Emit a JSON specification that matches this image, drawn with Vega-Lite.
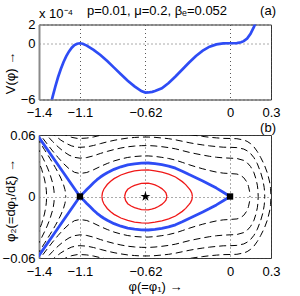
{
"$schema": "https://vega.github.io/schema/vega-lite/v6.json",
"padding": {"left": 1, "top": 3.5, "right": 0, "bottom": 0},
"bounds": "flush",
"spacing": 35.5,
"config": {
  "view": {"stroke": "#333", "strokeWidth": 1},
  "font": "Liberation Sans",
  "axis": {"grid": true, "gridColor": "#444", "gridDash": [1, 3], "gridWidth": 0.9, "domain": false, "ticks": false,
    "labelFont": "Liberation Sans", "labelFontSize": 13, "labelColor": "#000", "labelFlush": false, "labelOverlap": false,
    "titleFont": "Liberation Sans", "titleFontSize": 13, "titleFontWeight": "normal", "titleColor": "#000"}
},
"datasets": {
  "V": [
    {"x":-1.34,"y":-8.1},{"x":-1.32,"y":-6.9},{"x":-1.30,"y":-5.7},{"x":-1.28,"y":-4.6},{"x":-1.26,"y":-3.6},{"x":-1.24,"y":-2.75},{"x":-1.22,"y":-2.0},{"x":-1.20,"y":-1.38},{"x":-1.18,"y":-0.87},{"x":-1.16,"y":-0.48},{"x":-1.14,"y":-0.2},{"x":-1.12,"y":-0.05},{"x":-1.10,"y":0},{"x":-1.08,"y":-0.05},{"x":-1.05,"y":-0.25},{"x":-1.00,"y":-0.7},{"x":-0.95,"y":-1.25},{"x":-0.90,"y":-1.9},{"x":-0.85,"y":-2.6},{"x":-0.80,"y":-3.3},{"x":-0.75,"y":-4.0},{"x":-0.70,"y":-4.6},{"x":-0.65,"y":-5.1},{"x":-0.62,"y":-5.26},{"x":-0.60,"y":-5.25},{"x":-0.57,"y":-5.18},{"x":-0.55,"y":-5.1},{"x":-0.50,"y":-4.8},{"x":-0.45,"y":-4.25},{"x":-0.40,"y":-3.55},{"x":-0.35,"y":-2.8},{"x":-0.30,"y":-2.05},{"x":-0.25,"y":-1.35},{"x":-0.20,"y":-0.78},{"x":-0.15,"y":-0.36},{"x":-0.10,"y":-0.12},{"x":-0.05,"y":-0.02},{"x":0,"y":0},{"x":0.05,"y":0.02},{"x":0.08,"y":0.1},{"x":0.10,"y":0.22},{"x":0.125,"y":0.5},{"x":0.15,"y":1.0},{"x":0.175,"y":1.75},{"x":0.19,"y":2.3},{"x":0.20,"y":2.8}
  ],
  "b": [
    {"g":"bu","x":-1.42,"y":0.0614},{"g":"bu","x":-1.26,"y":0.0307},{"g":"bu","x":-1.10,"y":0},{"g":"bu","x":-1.075,"y":0.0033},{"g":"bu","x":-1.05,"y":0.0068},{"g":"bu","x":-1.025,"y":0.0101},{"g":"bu","x":-1.00,"y":0.0134},{"g":"bu","x":-0.975,"y":0.0164},{"g":"bu","x":-0.95,"y":0.0190},{"g":"bu","x":-0.925,"y":0.0212},{"g":"bu","x":-0.90,"y":0.0232},{"g":"bu","x":-0.85,"y":0.0265},{"g":"bu","x":-0.80,"y":0.0290},{"g":"bu","x":-0.75,"y":0.0308},{"g":"bu","x":-0.70,"y":0.0319},{"g":"bu","x":-0.65,"y":0.0326},{"g":"bu","x":-0.60,"y":0.0327},{"g":"bu","x":-0.55,"y":0.0321},{"g":"bu","x":-0.50,"y":0.0310},{"g":"bu","x":-0.45,"y":0.0297},{"g":"bu","x":-0.40,"y":0.0276},{"g":"bu","x":-0.35,"y":0.0247},{"g":"bu","x":-0.30,"y":0.0214},{"g":"bu","x":-0.25,"y":0.0183},{"g":"bu","x":-0.20,"y":0.0152},{"g":"bu","x":-0.15,"y":0.0118},{"g":"bu","x":-0.10,"y":0.0082},{"g":"bu","x":-0.05,"y":0.0042},{"g":"bu","x":0,"y":0},
    {"g":"bl","x":-1.42,"y":-0.0614},{"g":"bl","x":-1.26,"y":-0.0307},{"g":"bl","x":-1.10,"y":0},{"g":"bl","x":-1.075,"y":-0.0033},{"g":"bl","x":-1.05,"y":-0.0068},{"g":"bl","x":-1.025,"y":-0.0101},{"g":"bl","x":-1.00,"y":-0.0134},{"g":"bl","x":-0.975,"y":-0.0164},{"g":"bl","x":-0.95,"y":-0.0190},{"g":"bl","x":-0.925,"y":-0.0212},{"g":"bl","x":-0.90,"y":-0.0232},{"g":"bl","x":-0.85,"y":-0.0265},{"g":"bl","x":-0.80,"y":-0.0290},{"g":"bl","x":-0.75,"y":-0.0308},{"g":"bl","x":-0.70,"y":-0.0319},{"g":"bl","x":-0.65,"y":-0.0326},{"g":"bl","x":-0.60,"y":-0.0327},{"g":"bl","x":-0.55,"y":-0.0321},{"g":"bl","x":-0.50,"y":-0.0310},{"g":"bl","x":-0.45,"y":-0.0297},{"g":"bl","x":-0.40,"y":-0.0276},{"g":"bl","x":-0.35,"y":-0.0247},{"g":"bl","x":-0.30,"y":-0.0214},{"g":"bl","x":-0.25,"y":-0.0183},{"g":"bl","x":-0.20,"y":-0.0152},{"g":"bl","x":-0.15,"y":-0.0118},{"g":"bl","x":-0.10,"y":-0.0082},{"g":"bl","x":-0.05,"y":-0.0042},{"g":"bl","x":0,"y":0}
  ],
  "r": [
    {"g":"r4u","x":-0.939,"y":0},{"g":"r4u","x":-0.935,"y":0.0038},{"g":"r4u","x":-0.925,"y":0.0071},{"g":"r4u","x":-0.90,"y":0.0117},{"g":"r4u","x":-0.875,"y":0.0148},{"g":"r4u","x":-0.85,"y":0.0174},{"g":"r4u","x":-0.80,"y":0.0210},{"g":"r4u","x":-0.75,"y":0.0234},{"g":"r4u","x":-0.70,"y":0.0249},{"g":"r4u","x":-0.65,"y":0.0257},{"g":"r4u","x":-0.60,"y":0.0259},{"g":"r4u","x":-0.55,"y":0.0251},{"g":"r4u","x":-0.50,"y":0.0237},{"g":"r4u","x":-0.45,"y":0.0219},{"g":"r4u","x":-0.40,"y":0.0190},{"g":"r4u","x":-0.35,"y":0.0145},{"g":"r4u","x":-0.325,"y":0.0116},{"g":"r4u","x":-0.30,"y":0.0077},{"g":"r4u","x":-0.29,"y":0.0059},{"g":"r4u","x":-0.28,"y":0.0032},{"g":"r4u","x":-0.276,"y":0},
    {"g":"r4l","x":-0.939,"y":0},{"g":"r4l","x":-0.935,"y":-0.0038},{"g":"r4l","x":-0.925,"y":-0.0071},{"g":"r4l","x":-0.90,"y":-0.0117},{"g":"r4l","x":-0.875,"y":-0.0148},{"g":"r4l","x":-0.85,"y":-0.0174},{"g":"r4l","x":-0.80,"y":-0.0210},{"g":"r4l","x":-0.75,"y":-0.0234},{"g":"r4l","x":-0.70,"y":-0.0249},{"g":"r4l","x":-0.65,"y":-0.0257},{"g":"r4l","x":-0.60,"y":-0.0259},{"g":"r4l","x":-0.55,"y":-0.0251},{"g":"r4l","x":-0.50,"y":-0.0237},{"g":"r4l","x":-0.45,"y":-0.0219},{"g":"r4l","x":-0.40,"y":-0.0190},{"g":"r4l","x":-0.35,"y":-0.0145},{"g":"r4l","x":-0.325,"y":-0.0116},{"g":"r4l","x":-0.30,"y":-0.0077},{"g":"r4l","x":-0.29,"y":-0.0059},{"g":"r4l","x":-0.28,"y":-0.0032},{"g":"r4l","x":-0.276,"y":0},
    {"g":"r9u","x":-0.773,"y":0},{"g":"r9u","x":-0.765,"y":0.0041},{"g":"r9u","x":-0.75,"y":0.0070},{"g":"r9u","x":-0.725,"y":0.0093},{"g":"r9u","x":-0.70,"y":0.0109},{"g":"r9u","x":-0.675,"y":0.0119},{"g":"r9u","x":-0.65,"y":0.0128},{"g":"r9u","x":-0.60,"y":0.0130},{"g":"r9u","x":-0.575,"y":0.0123},{"g":"r9u","x":-0.55,"y":0.0114},{"g":"r9u","x":-0.525,"y":0.0098},{"g":"r9u","x":-0.50,"y":0.0077},{"g":"r9u","x":-0.48,"y":0.0053},{"g":"r9u","x":-0.47,"y":0.0035},{"g":"r9u","x":-0.4625,"y":0},
    {"g":"r9l","x":-0.773,"y":0},{"g":"r9l","x":-0.765,"y":-0.0041},{"g":"r9l","x":-0.75,"y":-0.0070},{"g":"r9l","x":-0.725,"y":-0.0093},{"g":"r9l","x":-0.70,"y":-0.0109},{"g":"r9l","x":-0.675,"y":-0.0119},{"g":"r9l","x":-0.65,"y":-0.0128},{"g":"r9l","x":-0.60,"y":-0.0130},{"g":"r9l","x":-0.575,"y":-0.0123},{"g":"r9l","x":-0.55,"y":-0.0114},{"g":"r9l","x":-0.525,"y":-0.0098},{"g":"r9l","x":-0.50,"y":-0.0077},{"g":"r9l","x":-0.48,"y":-0.0053},{"g":"r9l","x":-0.47,"y":-0.0035},{"g":"r9l","x":-0.4625,"y":0}
  ],
  "d": [
    {"g":"p5u","x":-1.42,"y":0.0654},{"g":"p5u","x":-1.38,"y":0.0582},{"g":"p5u","x":-1.34,"y":0.0512},{"g":"p5u","x":-1.30,"y":0.0444},{"g":"p5u","x":-1.26,"y":0.0380},{"g":"p5u","x":-1.22,"y":0.0321},{"g":"p5u","x":-1.18,"y":0.0271},{"g":"p5u","x":-1.14,"y":0.0236},{"g":"p5u","x":-1.10,"y":0.0224},{"g":"p5u","x":-1.05,"y":0.0234},{"g":"p5u","x":-1.00,"y":0.0261},{"g":"p5u","x":-0.95,"y":0.0293},{"g":"p5u","x":-0.90,"y":0.0322},{"g":"p5u","x":-0.85,"y":0.0347},{"g":"p5u","x":-0.80,"y":0.0366},{"g":"p5u","x":-0.75,"y":0.0381},{"g":"p5u","x":-0.70,"y":0.0390},{"g":"p5u","x":-0.65,"y":0.0395},{"g":"p5u","x":-0.60,"y":0.0396},{"g":"p5u","x":-0.55,"y":0.0391},{"g":"p5u","x":-0.50,"y":0.0382},{"g":"p5u","x":-0.45,"y":0.0371},{"g":"p5u","x":-0.40,"y":0.0355},{"g":"p5u","x":-0.35,"y":0.0333},{"g":"p5u","x":-0.30,"y":0.0310},{"g":"p5u","x":-0.25,"y":0.0289},{"g":"p5u","x":-0.20,"y":0.0270},{"g":"p5u","x":-0.15,"y":0.0253},{"g":"p5u","x":-0.10,"y":0.0238},{"g":"p5u","x":-0.05,"y":0.0228},{"g":"p5u","x":0,"y":0.0224},{"g":"p5u","x":0.05,"y":0.0219},{"g":"p5u","x":0.075,"y":0.0208},{"g":"p5u","x":0.10,"y":0.0184},{"g":"p5u","x":0.125,"y":0.0138},{"g":"p5u","x":0.135,"y":0.0099},{"g":"p5u","x":0.143,"y":0.0049},{"g":"p5u","x":0.1457,"y":0},
    {"g":"p5l","x":-1.42,"y":-0.0654},{"g":"p5l","x":-1.38,"y":-0.0582},{"g":"p5l","x":-1.34,"y":-0.0512},{"g":"p5l","x":-1.30,"y":-0.0444},{"g":"p5l","x":-1.26,"y":-0.0380},{"g":"p5l","x":-1.22,"y":-0.0321},{"g":"p5l","x":-1.18,"y":-0.0271},{"g":"p5l","x":-1.14,"y":-0.0236},{"g":"p5l","x":-1.10,"y":-0.0224},{"g":"p5l","x":-1.05,"y":-0.0234},{"g":"p5l","x":-1.00,"y":-0.0261},{"g":"p5l","x":-0.95,"y":-0.0293},{"g":"p5l","x":-0.90,"y":-0.0322},{"g":"p5l","x":-0.85,"y":-0.0347},{"g":"p5l","x":-0.80,"y":-0.0366},{"g":"p5l","x":-0.75,"y":-0.0381},{"g":"p5l","x":-0.70,"y":-0.0390},{"g":"p5l","x":-0.65,"y":-0.0395},{"g":"p5l","x":-0.60,"y":-0.0396},{"g":"p5l","x":-0.55,"y":-0.0391},{"g":"p5l","x":-0.50,"y":-0.0382},{"g":"p5l","x":-0.45,"y":-0.0371},{"g":"p5l","x":-0.40,"y":-0.0355},{"g":"p5l","x":-0.35,"y":-0.0333},{"g":"p5l","x":-0.30,"y":-0.0310},{"g":"p5l","x":-0.25,"y":-0.0289},{"g":"p5l","x":-0.20,"y":-0.0270},{"g":"p5l","x":-0.15,"y":-0.0253},{"g":"p5l","x":-0.10,"y":-0.0238},{"g":"p5l","x":-0.05,"y":-0.0228},{"g":"p5l","x":0,"y":-0.0224},{"g":"p5l","x":0.05,"y":-0.0219},{"g":"p5l","x":0.075,"y":-0.0208},{"g":"p5l","x":0.10,"y":-0.0184},{"g":"p5l","x":0.125,"y":-0.0138},{"g":"p5l","x":0.135,"y":-0.0099},{"g":"p5l","x":0.143,"y":-0.0049},{"g":"p5l","x":0.1457,"y":0},
    {"g":"p14u","x":-1.38,"y":0.0655},{"g":"p14u","x":-1.34,"y":0.0594},{"g":"p14u","x":-1.30,"y":0.0536},{"g":"p14u","x":-1.26,"y":0.0484},{"g":"p14u","x":-1.22,"y":0.0439},{"g":"p14u","x":-1.18,"y":0.0404},{"g":"p14u","x":-1.14,"y":0.0382},{"g":"p14u","x":-1.10,"y":0.0374},{"g":"p14u","x":-1.05,"y":0.0380},{"g":"p14u","x":-1.00,"y":0.0397},{"g":"p14u","x":-0.95,"y":0.0420},{"g":"p14u","x":-0.90,"y":0.0440},{"g":"p14u","x":-0.85,"y":0.0458},{"g":"p14u","x":-0.80,"y":0.0473},{"g":"p14u","x":-0.75,"y":0.0485},{"g":"p14u","x":-0.70,"y":0.0492},{"g":"p14u","x":-0.65,"y":0.0496},{"g":"p14u","x":-0.60,"y":0.0497},{"g":"p14u","x":-0.55,"y":0.0493},{"g":"p14u","x":-0.50,"y":0.0486},{"g":"p14u","x":-0.45,"y":0.0477},{"g":"p14u","x":-0.40,"y":0.0465},{"g":"p14u","x":-0.35,"y":0.0448},{"g":"p14u","x":-0.30,"y":0.0431},{"g":"p14u","x":-0.25,"y":0.0417},{"g":"p14u","x":-0.20,"y":0.0404},{"g":"p14u","x":-0.15,"y":0.0392},{"g":"p14u","x":-0.10,"y":0.0383},{"g":"p14u","x":-0.05,"y":0.0377},{"g":"p14u","x":0,"y":0.0374},{"g":"p14u","x":0.05,"y":0.0371},{"g":"p14u","x":0.10,"y":0.0352},{"g":"p14u","x":0.125,"y":0.0330},{"g":"p14u","x":0.15,"y":0.0293},{"g":"p14u","x":0.175,"y":0.0232},{"g":"p14u","x":0.19,"y":0.0170},{"g":"p14u","x":0.20,"y":0.0110},{"g":"p14u","x":0.204,"y":0.0066},{"g":"p14u","x":0.2063,"y":0},
    {"g":"p14l","x":-1.38,"y":-0.0655},{"g":"p14l","x":-1.34,"y":-0.0594},{"g":"p14l","x":-1.30,"y":-0.0536},{"g":"p14l","x":-1.26,"y":-0.0484},{"g":"p14l","x":-1.22,"y":-0.0439},{"g":"p14l","x":-1.18,"y":-0.0404},{"g":"p14l","x":-1.14,"y":-0.0382},{"g":"p14l","x":-1.10,"y":-0.0374},{"g":"p14l","x":-1.05,"y":-0.0380},{"g":"p14l","x":-1.00,"y":-0.0397},{"g":"p14l","x":-0.95,"y":-0.0420},{"g":"p14l","x":-0.90,"y":-0.0440},{"g":"p14l","x":-0.85,"y":-0.0458},{"g":"p14l","x":-0.80,"y":-0.0473},{"g":"p14l","x":-0.75,"y":-0.0485},{"g":"p14l","x":-0.70,"y":-0.0492},{"g":"p14l","x":-0.65,"y":-0.0496},{"g":"p14l","x":-0.60,"y":-0.0497},{"g":"p14l","x":-0.55,"y":-0.0493},{"g":"p14l","x":-0.50,"y":-0.0486},{"g":"p14l","x":-0.45,"y":-0.0477},{"g":"p14l","x":-0.40,"y":-0.0465},{"g":"p14l","x":-0.35,"y":-0.0448},{"g":"p14l","x":-0.30,"y":-0.0431},{"g":"p14l","x":-0.25,"y":-0.0417},{"g":"p14l","x":-0.20,"y":-0.0404},{"g":"p14l","x":-0.15,"y":-0.0392},{"g":"p14l","x":-0.10,"y":-0.0383},{"g":"p14l","x":-0.05,"y":-0.0377},{"g":"p14l","x":0,"y":-0.0374},{"g":"p14l","x":0.05,"y":-0.0371},{"g":"p14l","x":0.10,"y":-0.0352},{"g":"p14l","x":0.125,"y":-0.0330},{"g":"p14l","x":0.15,"y":-0.0293},{"g":"p14l","x":0.175,"y":-0.0232},{"g":"p14l","x":0.19,"y":-0.0170},{"g":"p14l","x":0.20,"y":-0.0110},{"g":"p14l","x":0.204,"y":-0.0066},{"g":"p14l","x":0.2063,"y":0},
    {"g":"p23u","x":-1.32,"y":0.0639},{"g":"p23u","x":-1.28,"y":0.0591},{"g":"p23u","x":-1.24,"y":0.0550},{"g":"p23u","x":-1.20,"y":0.0517},{"g":"p23u","x":-1.16,"y":0.0493},{"g":"p23u","x":-1.12,"y":0.0481},{"g":"p23u","x":-1.10,"y":0.0480},{"g":"p23u","x":-1.05,"y":0.0484},{"g":"p23u","x":-1.00,"y":0.0498},{"g":"p23u","x":-0.95,"y":0.0516},{"g":"p23u","x":-0.90,"y":0.0533},{"g":"p23u","x":-0.85,"y":0.0548},{"g":"p23u","x":-0.80,"y":0.0560},{"g":"p23u","x":-0.75,"y":0.0570},{"g":"p23u","x":-0.70,"y":0.0576},{"g":"p23u","x":-0.65,"y":0.0580},{"g":"p23u","x":-0.60,"y":0.0580},{"g":"p23u","x":-0.55,"y":0.0577},{"g":"p23u","x":-0.50,"y":0.0571},{"g":"p23u","x":-0.45,"y":0.0564},{"g":"p23u","x":-0.40,"y":0.0553},{"g":"p23u","x":-0.35,"y":0.0539},{"g":"p23u","x":-0.30,"y":0.0525},{"g":"p23u","x":-0.25,"y":0.0513},{"g":"p23u","x":-0.20,"y":0.0503},{"g":"p23u","x":-0.15,"y":0.0494},{"g":"p23u","x":-0.10,"y":0.0487},{"g":"p23u","x":-0.05,"y":0.0481},{"g":"p23u","x":0,"y":0.0480},{"g":"p23u","x":0.05,"y":0.0477},{"g":"p23u","x":0.10,"y":0.0463},{"g":"p23u","x":0.125,"y":0.0446},{"g":"p23u","x":0.15,"y":0.0420},{"g":"p23u","x":0.175,"y":0.0379},{"g":"p23u","x":0.20,"y":0.0319},{"g":"p23u","x":0.225,"y":0.0232},{"g":"p23u","x":0.24,"y":0.0162},{"g":"p23u","x":0.25,"y":0.0089},{"g":"p23u","x":0.253,"y":0.0047},{"g":"p23u","x":0.2542,"y":0},
    {"g":"p23l","x":-1.32,"y":-0.0639},{"g":"p23l","x":-1.28,"y":-0.0591},{"g":"p23l","x":-1.24,"y":-0.0550},{"g":"p23l","x":-1.20,"y":-0.0517},{"g":"p23l","x":-1.16,"y":-0.0493},{"g":"p23l","x":-1.12,"y":-0.0481},{"g":"p23l","x":-1.10,"y":-0.0480},{"g":"p23l","x":-1.05,"y":-0.0484},{"g":"p23l","x":-1.00,"y":-0.0498},{"g":"p23l","x":-0.95,"y":-0.0516},{"g":"p23l","x":-0.90,"y":-0.0533},{"g":"p23l","x":-0.85,"y":-0.0548},{"g":"p23l","x":-0.80,"y":-0.0560},{"g":"p23l","x":-0.75,"y":-0.0570},{"g":"p23l","x":-0.70,"y":-0.0576},{"g":"p23l","x":-0.65,"y":-0.0580},{"g":"p23l","x":-0.60,"y":-0.0580},{"g":"p23l","x":-0.55,"y":-0.0577},{"g":"p23l","x":-0.50,"y":-0.0571},{"g":"p23l","x":-0.45,"y":-0.0564},{"g":"p23l","x":-0.40,"y":-0.0553},{"g":"p23l","x":-0.35,"y":-0.0539},{"g":"p23l","x":-0.30,"y":-0.0525},{"g":"p23l","x":-0.25,"y":-0.0513},{"g":"p23l","x":-0.20,"y":-0.0503},{"g":"p23l","x":-0.15,"y":-0.0494},{"g":"p23l","x":-0.10,"y":-0.0487},{"g":"p23l","x":-0.05,"y":-0.0481},{"g":"p23l","x":0,"y":-0.0480},{"g":"p23l","x":0.05,"y":-0.0477},{"g":"p23l","x":0.10,"y":-0.0463},{"g":"p23l","x":0.125,"y":-0.0446},{"g":"p23l","x":0.15,"y":-0.0420},{"g":"p23l","x":0.175,"y":-0.0379},{"g":"p23l","x":0.20,"y":-0.0319},{"g":"p23l","x":0.225,"y":-0.0232},{"g":"p23l","x":0.24,"y":-0.0162},{"g":"p23l","x":0.25,"y":-0.0089},{"g":"p23l","x":0.253,"y":-0.0047},{"g":"p23l","x":0.2542,"y":0},
    {"g":"p32u","x":-1.24,"y":0.0626},{"g":"p32u","x":-1.20,"y":0.0597},{"g":"p32u","x":-1.16,"y":0.0577},{"g":"p32u","x":-1.12,"y":0.0567},{"g":"p32u","x":-1.10,"y":0.0566},{"g":"p32u","x":-1.05,"y":0.0570},{"g":"p32u","x":-1.00,"y":0.0581},{"g":"p32u","x":-0.95,"y":0.0597},{"g":"p32u","x":-0.90,"y":0.0611},{"g":"p32u","x":-0.85,"y":0.0625},{"g":"p32u","x":-0.60,"y":0.0653},{"g":"p32u","x":-0.35,"y":0.0617},{"g":"p32u","x":-0.30,"y":0.0605},{"g":"p32u","x":-0.25,"y":0.0595},{"g":"p32u","x":-0.20,"y":0.0586},{"g":"p32u","x":-0.15,"y":0.0578},{"g":"p32u","x":-0.10,"y":0.0572},{"g":"p32u","x":-0.05,"y":0.0567},{"g":"p32u","x":0,"y":0.0566},{"g":"p32u","x":0.05,"y":0.0564},{"g":"p32u","x":0.10,"y":0.0551},{"g":"p32u","x":0.125,"y":0.0538},{"g":"p32u","x":0.15,"y":0.0516},{"g":"p32u","x":0.175,"y":0.0484},{"g":"p32u","x":0.20,"y":0.0438},{"g":"p32u","x":0.225,"y":0.0379},{"g":"p32u","x":0.25,"y":0.0313},{"g":"p32u","x":0.275,"y":0.0224},{"g":"p32u","x":0.29,"y":0.0141},{"g":"p32u","x":0.297,"y":0.0077},{"g":"p32u","x":0.30,"y":0},
    {"g":"p32l","x":-1.24,"y":-0.0626},{"g":"p32l","x":-1.20,"y":-0.0597},{"g":"p32l","x":-1.16,"y":-0.0577},{"g":"p32l","x":-1.12,"y":-0.0567},{"g":"p32l","x":-1.10,"y":-0.0566},{"g":"p32l","x":-1.05,"y":-0.0570},{"g":"p32l","x":-1.00,"y":-0.0581},{"g":"p32l","x":-0.95,"y":-0.0597},{"g":"p32l","x":-0.90,"y":-0.0611},{"g":"p32l","x":-0.85,"y":-0.0625},{"g":"p32l","x":-0.60,"y":-0.0653},{"g":"p32l","x":-0.35,"y":-0.0617},{"g":"p32l","x":-0.30,"y":-0.0605},{"g":"p32l","x":-0.25,"y":-0.0595},{"g":"p32l","x":-0.20,"y":-0.0586},{"g":"p32l","x":-0.15,"y":-0.0578},{"g":"p32l","x":-0.10,"y":-0.0572},{"g":"p32l","x":-0.05,"y":-0.0567},{"g":"p32l","x":0,"y":-0.0566},{"g":"p32l","x":0.05,"y":-0.0564},{"g":"p32l","x":0.10,"y":-0.0551},{"g":"p32l","x":0.125,"y":-0.0538},{"g":"p32l","x":0.15,"y":-0.0516},{"g":"p32l","x":0.175,"y":-0.0484},{"g":"p32l","x":0.20,"y":-0.0438},{"g":"p32l","x":0.225,"y":-0.0379},{"g":"p32l","x":0.25,"y":-0.0313},{"g":"p32l","x":0.275,"y":-0.0224},{"g":"p32l","x":0.29,"y":-0.0141},{"g":"p32l","x":0.297,"y":-0.0077},{"g":"p32l","x":0.30,"y":0},
    {"g":"m4u","x":-1.42,"y":0.0581},{"g":"m4u","x":-1.40,"y":0.0540},{"g":"m4u","x":-1.38,"y":0.0499},{"g":"m4u","x":-1.36,"y":0.0457},{"g":"m4u","x":-1.34,"y":0.0415},{"g":"m4u","x":-1.32,"y":0.0372},{"g":"m4u","x":-1.30,"y":0.0328},{"g":"m4u","x":-1.28,"y":0.0282},{"g":"m4u","x":-1.26,"y":0.0233},{"g":"m4u","x":-1.24,"y":0.0180},{"g":"m4u","x":-1.22,"y":0.0114},{"g":"m4u","x":-1.21,"y":0.0068},{"g":"m4u","x":-1.207,"y":0.0047},{"g":"m4u","x":-1.2042,"y":0},
    {"g":"m4l","x":-1.42,"y":-0.0581},{"g":"m4l","x":-1.40,"y":-0.0540},{"g":"m4l","x":-1.38,"y":-0.0499},{"g":"m4l","x":-1.36,"y":-0.0457},{"g":"m4l","x":-1.34,"y":-0.0415},{"g":"m4l","x":-1.32,"y":-0.0372},{"g":"m4l","x":-1.30,"y":-0.0328},{"g":"m4l","x":-1.28,"y":-0.0282},{"g":"m4l","x":-1.26,"y":-0.0233},{"g":"m4l","x":-1.24,"y":-0.0180},{"g":"m4l","x":-1.22,"y":-0.0114},{"g":"m4l","x":-1.21,"y":-0.0068},{"g":"m4l","x":-1.207,"y":-0.0047},{"g":"m4l","x":-1.2042,"y":0},
    {"g":"m13u","x":-1.42,"y":0.0497},{"g":"m13u","x":-1.40,"y":0.0449},{"g":"m13u","x":-1.38,"y":0.0399},{"g":"m13u","x":-1.36,"y":0.0345},{"g":"m13u","x":-1.34,"y":0.0287},{"g":"m13u","x":-1.32,"y":0.0220},{"g":"m13u","x":-1.30,"y":0.0132},{"g":"m13u","x":-1.295,"y":0.0101},{"g":"m13u","x":-1.29,"y":0.0055},{"g":"m13u","x":-1.2878,"y":0},
    {"g":"m13l","x":-1.42,"y":-0.0497},{"g":"m13l","x":-1.40,"y":-0.0449},{"g":"m13l","x":-1.38,"y":-0.0399},{"g":"m13l","x":-1.36,"y":-0.0345},{"g":"m13l","x":-1.34,"y":-0.0287},{"g":"m13l","x":-1.32,"y":-0.0220},{"g":"m13l","x":-1.30,"y":-0.0132},{"g":"m13l","x":-1.295,"y":-0.0101},{"g":"m13l","x":-1.29,"y":-0.0055},{"g":"m13l","x":-1.2878,"y":0},
    {"g":"m22u","x":-1.42,"y":0.0397},{"g":"m22u","x":-1.40,"y":0.0334},{"g":"m22u","x":-1.38,"y":0.0263},{"g":"m22u","x":-1.36,"y":0.0171},{"g":"m22u","x":-1.35,"y":0.0102},{"g":"m22u","x":-1.346,"y":0.0056},{"g":"m22u","x":-1.3443,"y":0},
    {"g":"m22l","x":-1.42,"y":-0.0397},{"g":"m22l","x":-1.40,"y":-0.0334},{"g":"m22l","x":-1.38,"y":-0.0263},{"g":"m22l","x":-1.36,"y":-0.0171},{"g":"m22l","x":-1.35,"y":-0.0102},{"g":"m22l","x":-1.346,"y":-0.0056},{"g":"m22l","x":-1.3443,"y":0}
  ]
},
"vconcat": [
  {
    "width": 232, "height": 75,
    "encoding": {
      "x": {"field": "x", "type": "quantitative", "scale": {"domain": [-1.4, 0.3], "nice": false, "zero": false},
        "axis": {"values": [-1.4, -1.1, -0.62, 0, 0.3], "format": ".2~f", "title": null, "labelPadding": 6.5}},
      "y": {"field": "y", "type": "quantitative", "scale": {"domain": [-6, 2], "nice": false, "zero": false},
        "axis": {"values": [-6, 0, 2], "format": "~g", "title": "V(φ) →", "labelPadding": 4, "titleX": -29, "titleY": 48, "titleAngle": 270, "titleAlign": "center", "titleBaseline": "middle", "domain": true, "domainColor": "#8a8a8a", "domainWidth": 2}}
    },
    "layer": [
      {"data": {"name": "V"}, "mark": {"type": "line", "color": "#2e4cf5", "strokeWidth": 2.7, "clip": true}},
      {"data": {"values": [{"x": -1.4, "y": 2}]}, "mark": {"type": "text", "align": "left", "baseline": "bottom", "dy": -4, "fontSize": 13, "font": "Liberation Sans", "color": "#000"},
        "encoding": {"text": {"value": "x 10⁻⁴"}}},
      {"data": {"values": [{"x": -0.55, "y": 2}]}, "mark": {"type": "text", "align": "center", "baseline": "middle", "dx": 2, "dy": -14, "fontSize": 13, "font": "Liberation Sans", "color": "#000"},
        "encoding": {"text": {"value": "p=0.01, μ=0.2, βₑ=0.052"}}},
      {"data": {"values": [{"x": 0.3, "y": 2}]}, "mark": {"type": "text", "align": "right", "baseline": "middle", "dx": 5, "dy": -14, "fontSize": 13, "font": "Liberation Sans", "color": "#000"},
        "encoding": {"text": {"value": "(a)"}}}
    ]
  },
  {
    "width": 232, "height": 123,
    "encoding": {
      "x": {"field": "x", "type": "quantitative", "scale": {"domain": [-1.4, 0.3], "nice": false, "zero": false},
        "axis": {"values": [-1.4, -1.1, -0.62, 0, 0.3], "format": ".2~f", "title": "φ(=φ₁) →", "labelPadding": 7, "titleX": 116, "titleY": 28, "titleAlign": "center", "titleBaseline": "middle"}},
      "y": {"field": "y", "type": "quantitative", "scale": {"domain": [-0.06, 0.06], "nice": false, "zero": false},
        "axis": {"values": [-0.06, 0, 0.06], "format": ".2~f", "title": "φ₂(=dφ₁/dξ) →", "labelPadding": 4, "titleX": -29, "titleY": 65, "titleAngle": 270, "titleAlign": "center", "titleBaseline": "middle", "domain": true, "domainColor": "#8a8a8a", "domainWidth": 2}}
    },
    "layer": [
      {"data": {"name": "d"}, "mark": {"type": "line", "color": "#000", "strokeWidth": 1, "strokeDash": [7, 4], "clip": true}, "encoding": {"detail": {"field": "g"}}},
      {"data": {"name": "r"}, "mark": {"type": "line", "color": "#f01818", "strokeWidth": 1.3, "clip": true}, "encoding": {"detail": {"field": "g"}}},
      {"data": {"name": "b"}, "mark": {"type": "line", "color": "#2e4cf5", "strokeWidth": 2.8, "strokeJoin": "round", "clip": true}, "encoding": {"detail": {"field": "g"}}},
      {"data": {"values": [{"x": -1.1, "y": 0}, {"x": 0, "y": 0}]}, "mark": {"type": "point", "shape": "square", "filled": true, "color": "#000", "size": 40, "opacity": 1}},
      {"data": {"values": [{"x": -0.62, "y": 0}]}, "mark": {"type": "point", "shape": "M0,-1L0.2245,-0.309L0.951,-0.309L0.363,0.118L0.588,0.809L0,0.382L-0.588,0.809L-0.363,0.118L-0.951,-0.309L-0.2245,-0.309Z", "filled": true, "color": "#000", "size": 110, "opacity": 1}},
      {"data": {"values": [{"x": 0.3, "y": 0.06}]}, "mark": {"type": "text", "align": "right", "baseline": "middle", "dx": 5, "dy": -7, "fontSize": 13, "font": "Liberation Sans", "color": "#000"},
        "encoding": {"text": {"value": "(b)"}}}
    ]
  }
]
}
